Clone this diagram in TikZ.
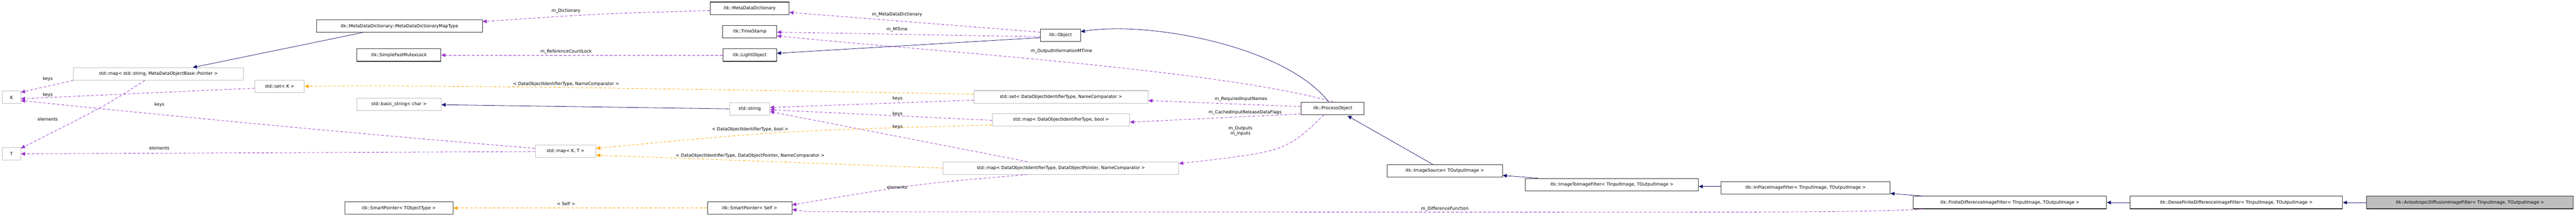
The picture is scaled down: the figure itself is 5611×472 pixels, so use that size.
\documentclass[tikz,border=0pt]{standalone}
\usepackage{fontspec}
\setmainfont{DejaVu Sans}
\usetikzlibrary{arrows.meta,calc}
\definecolor{navyc}{HTML}{191970}
\definecolor{purp}{HTML}{9A32CD}
\definecolor{orng}{HTML}{FFA500}
\definecolor{grayb}{HTML}{BFBFBF}
\begin{document}
\begin{tikzpicture}[x=1pt,y=-1pt,
  box/.style={draw=black!80,fill=white,line width=1.2pt,minimum height=27pt,inner sep=0pt,font=\fontsize{9.5}{11}\selectfont},
  sbox/.style={box,draw=grayb},
  lbl/.style={inner sep=1pt,font=\fontsize{9.5}{11}\selectfont,align=center},
  inh/.style={navyc,line width=0.9pt,-{Triangle[length=9pt,width=8pt]}},
  use/.style={purp,line width=0.9pt,dash pattern=on 6pt off 4pt,-{Triangle[length=9pt,width=8pt]}},
  tpl/.style={orng,line width=0.9pt,dash pattern=on 6pt off 4pt,-{Triangle[length=9pt,width=8pt]}}]
\useasboundingbox (0,0) rectangle (5611,472);
% nodes
\node[sbox,minimum width=40pt] (K) at (25,212) {K};
\node[sbox,minimum width=40pt] (T) at (25,335) {T};
\node[sbox,minimum width=370pt] (mdmap) at (345,161) {std::map< std::string, MetaDataObjectBase::Pointer >};
\node[sbox,minimum width=108pt] (setK) at (609,188) {std::set< K >};
\node[box,minimum width=361pt] (maptype) at (870,57) {itk::MetaDataDictionary::MetaDataDictionaryMapType};
\node[box,minimum width=183pt] (mutex) at (869,120) {itk::SimpleFastMutexLock};
\node[sbox,minimum width=184pt] (bstr) at (869,227) {std::basic\_string< char >};
\node[sbox,minimum width=132pt] (mapKT) at (1232,329) {std::map< K, T >};
\node[box,minimum width=236pt] (SPT) at (869,453) {itk::SmartPointer< TObjectType >};
\node[box,minimum width=172pt] (MDD) at (1633,18) {itk::MetaDataDictionary};
\node[box,minimum width=118pt] (TS) at (1633,69) {itk::TimeStamp};
\node[box,minimum width=117pt] (LO) at (1633,120) {itk::LightObject};
\node[sbox,minimum width=87pt] (str) at (1633,237) {std::string};
\node[box,minimum width=184pt] (SPS) at (1633,453) {itk::SmartPointer< Self >};
\node[box,minimum width=87pt] (Obj) at (2310,77) {itk::Object};
\node[sbox,minimum width=379pt] (setDN) at (2311,211) {std::set< DataObjectIdentifierType, NameComparator >};
\node[sbox,minimum width=299pt] (mapDB) at (2311,261) {std::map< DataObjectIdentifierType, bool >};
\node[sbox,minimum width=513pt] (mapDDN) at (2311,366) {std::map< DataObjectIdentifierType, DataObjectPointer, NameComparator >};
\node[box,minimum width=137pt] (PO) at (2903,236) {itk::ProcessObject};
\node[box,minimum width=251pt] (IS) at (3147,372) {itk::ImageSource< TOutputImage >};
\node[box,minimum width=377pt] (I2I) at (3511,402) {itk::ImageToImageFilter< TInputImage, TOutputImage >};
\node[box,minimum width=368pt] (IP) at (3933,409) {itk::InPlaceImageFilter< TInputImage, TOutputImage >};
\node[box,minimum width=421pt] (FD) at (4378,441) {itk::FiniteDifferenceImageFilter< TInputImage, TOutputImage >};
\node[box,minimum width=463pt] (DFD) at (4871,441) {itk::DenseFiniteDifferenceImageFilter< TInputImage, TOutputImage >};
\node[box,fill=grayb,minimum width=450pt] (AD) at (5380,441) {itk::AnisotropicDiffusionImageFilter< TInputImage, TOutputImage >};
% edges
\draw[inh] ($(maptype.south west)+(100,0)$) -- ($(mdmap.north)+(75,0)$);
\draw[use] (mdmap.south west) -- ($(K.north east)+(0,3)$);
\draw[use] ($(mdmap.south west)+(156,0)$) .. controls (230,230) .. ($(T.north east)+(0,2)$);
\draw[use] ($(setK.west)+(0,4)$) -- ($(K.east)+(0,3)$);
\draw[use] ($(mapKT.west)+(0,-6)$) .. controls (700,285) and (300,245) .. ($(K.east)+(0,7)$);
\draw[use] ($(mapKT.west)+(0,1)$) -- (T.east);
\draw[tpl] ($(setDN.west)+(0,-6)$) .. controls (1300,190) and (900,185) .. (setK.east);
\draw[use] ($(MDD.west)+(0,5)$) .. controls (1300,30) .. ($(maptype.east)+(0,-10)$);
\draw[use] (LO.west) -- (mutex.east);
\draw[inh] (str.west) -- ($(bstr.east)+(0,1)$);
\draw[tpl] (SPS.west) -- (SPT.east);
\draw[use] ($(Obj.west)+(0,-7)$) -- ($(MDD.east)+(0,9)$);
\draw[use] ($(Obj.west)+(0,3)$) -- ($(TS.east)+(0,1)$);
\draw[inh] ($(Obj.west)+(0,5)$) -- ($(LO.east)+(0,-4)$);
\draw[use] ($(PO.north west)+(70,0)$) .. controls (2650,150) and (2000,110) .. ($(TS.east)+(0,9)$);
\draw[inh] ($(PO.north west)+(60,0)$) .. controls (2800,100) and (2500,45) .. ($(Obj.east)+(0,-8)$);
\draw[use] ($(setDN.west)+(0,7)$) -- ($(str.east)+(0,-3)$);
\draw[use] ($(mapDB.west)+(0,1)$) -- ($(str.east)+(0,2)$);
\draw[use] ($(mapDDN.north west)+(184,0)$) -- ($(str.east)+(0,6)$);
\draw[tpl] ($(mapDB.west)+(0,11)$) .. controls (1700,285) .. ($(mapKT.east)+(0,-6)$);
\draw[tpl] (mapDDN.west) .. controls (1500,345) .. ($(mapKT.east)+(0,9)$);
\draw[use] ($(mapDDN.south west)+(184,0)$) .. controls (2000,400) .. ($(SPS.east)+(0,-7)$);
\draw[use] ($(PO.west)+(0,-4)$) -- ($(setDN.east)+(0,8)$);
\draw[use] ($(PO.west)+(0,12)$) -- ($(mapDB.east)+(0,5)$);
\draw[use] ($(PO.south west)+(50,0)$) .. controls (2800,330) .. ($(mapDDN.east)+(0,-10)$);
\draw[inh] ($(IS.north west)+(100,0)$) -- ($(PO.south east)+(-37,2)$);
\draw[inh] ($(I2I.north west)+(28,0)$) -- ($(IS.east)+(0,10)$);
\draw[inh] ($(IP.west)+(0,-3)$) -- ($(I2I.east)+(0,4)$);
\draw[inh] ($(FD.north west)+(22,0)$) -- ($(IP.south east)+(0,-2)$);
\draw[inh] (DFD.west) -- (FD.east);
\draw[inh] (AD.west) -- (DFD.east);
\coordinate (dfa) at (3500,462);
\coordinate (dfb) at (1760,461);
\draw[use] ($(FD.south west)+(20,0)$) .. controls (4100,462) and (3800,462) .. (dfa) -- (dfb) -- ($(SPS.east)+(0,3)$);
% labels
\node[lbl] (l1) at (104,172) {keys};
\node[lbl] (l2) at (104,207) {keys};
\node[lbl] (l3) at (347,228) {keys};
\node[lbl] (l4) at (104,260) {elements};
\node[lbl] (l5) at (347,323) {elements};
\node[lbl] (l6) at (1233,24) {m\_Dictionary};
\node[lbl] (l7) at (1233,112) {m\_ReferenceCountLock};
\node[lbl] (l8) at (1233,183) {< DataObjectIdentifierType, NameComparator >};
\node[lbl] (l9) at (1233,444) {< Self >};
\node[lbl] (l10) at (1954,32) {m\_MetaDataDictionary};
\node[lbl] (l11) at (1954,64) {m\_MTime};
\node[lbl] (l12) at (1955,214) {keys};
\node[lbl] (l13) at (1955,248) {keys};
\node[lbl] (l14) at (1955,276) {keys};
\node[lbl] (l15) at (1634,282) {< DataObjectIdentifierType, bool >};
\node[lbl] (l16) at (1634,339) {< DataObjectIdentifierType, DataObjectPointer, NameComparator >};
\node[lbl] (l17) at (1954,408) {elements};
\node[lbl] (l18) at (2312,111) {m\_OutputInformationMTime};
\node[lbl] (l19) at (2703,216) {m\_RequiredInputNames};
\node[lbl] (l20) at (2712,245) {m\_CachedInputReleaseDataFlags};
\node[lbl] (l21) at (2702,285) {m\_Outputs\\m\_Inputs};
\node[lbl] (l22) at (3147,455) {m\_DifferenceFunction};
\end{tikzpicture}
\end{document}
